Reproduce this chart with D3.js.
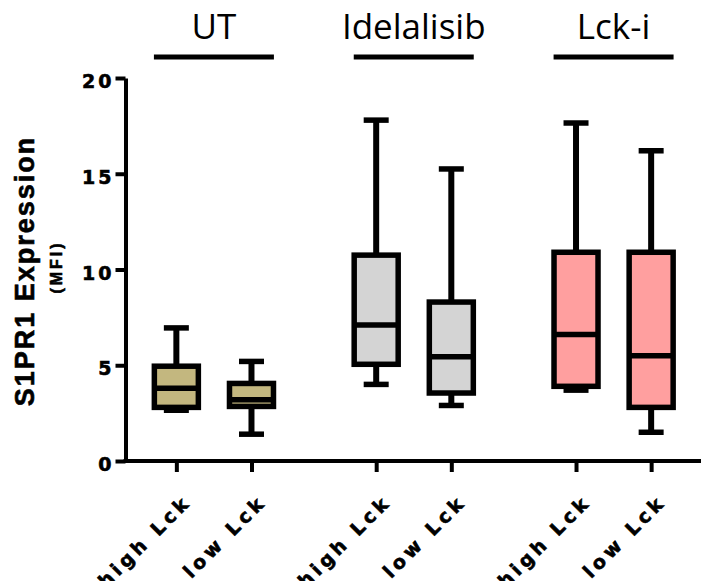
<!DOCTYPE html>
<html>
<head>
	<meta charset="utf-8">
	<script src="https://cdn.jsdelivr.net/npm/d3@7"></script>
	<style>
		body { margin: 0; background: white; }
		svg { display: block; }
		.heavy { stroke: black; stroke-width: 0.6px; }
	</style>
</head>
<body>
	<svg id="chart" width="701" height="581"></svg>

	<script>
		// treatment groups and the two Lck levels inside each group
		var groups = ['UT', 'Idelalisib', 'Lck-i'];
		var levels = ['high Lck', 'low Lck'];
		var fills = ['#c3b77f', '#d4d4d4', '#ff9f9f'];

		// box stats, one entry per group x level
		var whiskerLow  = [[2.65, 1.4], [4.0, 2.9], [3.7, 1.5]];
		var q1          = [[2.8, 2.85], [5.05, 3.55], [3.9, 2.8]];
		var median      = [[3.8, 3.2], [7.1, 5.45], [6.6, 5.5]];
		var q3          = [[4.95, 4.05], [10.75, 8.3], [10.9, 10.9]];
		var whiskerHigh = [[6.95, 5.2], [17.8, 15.25], [17.65, 16.2]];

		var yTicks = [0, 5, 10, 15, 20];

		var svg = d3.select('#chart');

		var y = d3.scaleLinear()
			.domain([0, 20])
			.range([461, 78]);

		var xGroup = d3.scaleBand()
			.domain(groups)
			.range([114, 713.5])
			.padding(0);

		var xLevel = d3.scalePoint()
			.domain(levels)
			.range([0, xGroup.bandwidth()])
			.padding(0.83);

		var boxW = 44, capW = 25, sw = 5.5;
		var boldFont = '"DejaVu Sans", sans-serif';

		// rows of data for drawing
		var rows = [];
		groups.forEach((g, gi) => {
			levels.forEach((l, li) => {
				rows.push({
					group: g, level: l, gi: gi,
					cx: xGroup(g) + xLevel(l),
					lo: whiskerLow[gi][li], q1: q1[gi][li], med: median[gi][li],
					q3: q3[gi][li], hi: whiskerHigh[gi][li]
				});
			});
		});

		// y axis
		var yAxis = svg.append('g')
			.attr('transform', 'translate(125.5,0)')
			.call(d3.axisLeft(y).tickValues(yTicks).tickSize(10).tickSizeOuter(0).tickPadding(1));
		yAxis.select('.domain').attr('stroke', 'black').attr('stroke-width', 4);
		yAxis.selectAll('.tick line').attr('stroke', 'black').attr('stroke-width', 4);
		yAxis.selectAll('.tick text')
			.attr('class', 'heavy')
			.attr('fill', 'black')
			.attr('dy', '0.5em')
			.style('font-family', boldFont)
			.style('font-weight', 'bold')
			.style('font-size', '19px')
			.style('letter-spacing', '3px');

		// x axis: positions from the group band + level point scales
		var xKeys = rows.map(d => d.group + '|' + d.level);
		var xPos = d3.scaleOrdinal()
			.domain(xKeys)
			.range(rows.map(d => d.cx));

		svg.append('line')
			.attr('x1', 123.5).attr('x2', 701)
			.attr('y1', y(0)).attr('y2', y(0))
			.attr('stroke', 'black').attr('stroke-width', 4);

		var xAxis = svg.append('g')
			.attr('transform', 'translate(0,' + y(0) + ')')
			.call(d3.axisBottom(xPos).tickSize(11).tickSizeOuter(0).tickFormat(''));
		xAxis.select('.domain').remove();
		xAxis.selectAll('.tick line').attr('stroke', 'black').attr('stroke-width', 4);

		svg.selectAll('.xlabel')
			.data(rows)
			.enter()
			.append('text')
			.attr('class', 'xlabel heavy')
			.attr('transform', d => 'translate(' + (d.cx + 16) + ',503) rotate(-45)')
			.attr('text-anchor', 'end')
			.style('font-family', boldFont)
			.style('font-weight', 'bold')
			.style('font-size', '19px')
			.style('letter-spacing', '4px')
			.text(d => d.level);

		// y title
		svg.append('text')
			.attr('class', 'heavy')
			.attr('transform', 'translate(33.5,271) rotate(-90)')
			.attr('text-anchor', 'middle')
			.style('font-family', '"Liberation Sans", Arial, sans-serif')
			.style('font-weight', 'bold')
			.style('font-size', '27px')
			.style('letter-spacing', '2px')
			.text('S1PR1 Expression');

		svg.append('text')
			.attr('class', 'heavy')
			.attr('transform', 'translate(62,267) rotate(-90)')
			.attr('text-anchor', 'middle')
			.style('font-family', '"Liberation Sans", Arial, sans-serif')
			.style('font-weight', 'bold')
			.style('font-size', '16px')
			.style('letter-spacing', '3px')
			.text('(MFI)');

		// group headers
		var head = svg.selectAll('.head')
			.data(groups)
			.enter()
			.append('g')
			.attr('class', 'head');

		head.append('text')
			.attr('x', d => xGroup(d) + xGroup.bandwidth() / 2)
			.attr('y', 38.5)
			.attr('text-anchor', 'middle')
			.style('font-family', '"Open Sans", Lato, sans-serif')
			.style('font-size', '35px')
			.text(d => d);

		head.append('line')
			.attr('x1', d => xGroup(d) + xGroup.bandwidth() / 2 - 60)
			.attr('x2', d => xGroup(d) + xGroup.bandwidth() / 2 + 60)
			.attr('y1', 57).attr('y2', 57)
			.attr('stroke', 'black').attr('stroke-width', 5);

		// boxes
		var box = svg.selectAll('.box')
			.data(rows)
			.enter()
			.append('g')
			.attr('class', 'box');

		box.append('line')
			.attr('x1', d => d.cx).attr('x2', d => d.cx)
			.attr('y1', d => y(d.hi)).attr('y2', d => y(d.lo))
			.attr('stroke', 'black').attr('stroke-width', 6);

		box.append('line')
			.attr('x1', d => d.cx - capW / 2).attr('x2', d => d.cx + capW / 2)
			.attr('y1', d => y(d.hi)).attr('y2', d => y(d.hi))
			.attr('stroke', 'black').attr('stroke-width', sw);

		box.append('line')
			.attr('x1', d => d.cx - capW / 2).attr('x2', d => d.cx + capW / 2)
			.attr('y1', d => y(d.lo)).attr('y2', d => y(d.lo))
			.attr('stroke', 'black').attr('stroke-width', sw);

		box.append('rect')
			.attr('x', d => d.cx - boxW / 2)
			.attr('width', boxW)
			.attr('y', d => y(d.q3))
			.attr('height', d => y(d.q1) - y(d.q3))
			.attr('fill', d => fills[d.gi])
			.attr('stroke', 'black')
			.attr('stroke-width', sw);

		box.append('line')
			.attr('x1', d => d.cx - boxW / 2).attr('x2', d => d.cx + boxW / 2)
			.attr('y1', d => y(d.med)).attr('y2', d => y(d.med))
			.attr('stroke', 'black').attr('stroke-width', sw);
	</script>
</body>
</html>
